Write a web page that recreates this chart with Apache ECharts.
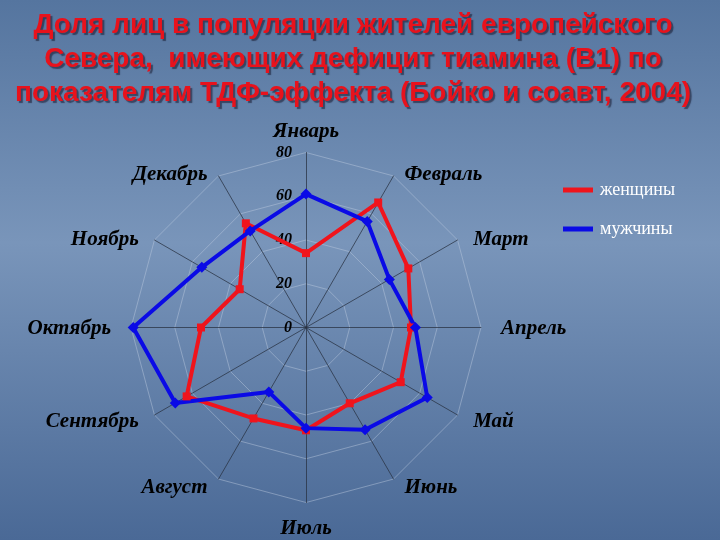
<!DOCTYPE html>
<html>
<head>
<meta charset="utf-8">
<script src="https://cdn.jsdelivr.net/npm/echarts@6/dist/echarts.min.js"></script>
<style>
  html, body { margin: 0; padding: 0; }
  #chart { width: 720px; height: 540px; }
</style>
</head>
<body>
<div id="chart"></div>
<script>
// месяцы (оси радара)
const months = ['Январь', 'Февраль', 'Март', 'Апрель', 'Май', 'Июнь',
  'Июль', 'Август', 'Сентябрь', 'Октябрь', 'Ноябрь', 'Декабрь'];
// доля лиц с дефицитом тиамина, %
const women = [34, 66, 54, 48, 50, 40, 47, 48, 63, 48, 35, 55];
const men = [61, 56, 44, 50, 64, 54, 46, 34, 69, 79, 55, 51];
const seriesNames = ['женщины', 'мужчины'];
const radarMax = 80;

const titleText = 'Доля лиц в популяции жителей европейского\n' +
  'Севера,  имеющих дефицит тиамина (В1) по\n' +
  'показателям ТДФ-эффекта (Бойко и соавт, 2004)';

const serif = 'Liberation Serif, Times New Roman, serif';

// радар в ECharts идёт против часовой стрелки, поэтому
// оставляем январь сверху, а остальные месяцы переворачиваем
function clockwise(arr) {
  return [arr[0]].concat(arr.slice(1).reverse());
}

// стиль подписи месяца по "ряду" (0 - январь ... 6 - июль)
const nameFont = {
  color: '#000',
  fontFamily: serif,
  fontStyle: 'italic',
  fontWeight: 'bold',
  fontSize: 21,
};
const rowPadding = [
  [0, 0, 0, 0],
  [15, 6, 0, 6],
  [10, 7, 0, 7],
  [2, 10, 0, 10],
  [4, 7, 0, 7],
  [0, 6, 0, 6],
  [6, 0, 0, 0],
];
const rich = {};
rowPadding.forEach((p, i) => {
  rich['r' + i] = Object.assign({ padding: p }, nameFont);
});

const chart = echarts.init(document.getElementById('chart'));

const indicator = clockwise(months).map((m, i) => {
  const ind = { name: m, max: radarMax, min: 0 };
  // подписи шкалы только на верхней оси
  if (i === 0) {
    ind.axisLabel = {
      show: true,
      color: '#000',
      fontFamily: serif,
      fontStyle: 'italic',
      fontWeight: 'bold',
      fontSize: 16,
      margin: 14,
    };
  }
  return ind;
});

const option = {
  backgroundColor: {
    type: 'linear', x: 0, y: 0, x2: 0, y2: 1,
    colorStops: [
      { offset: 0, color: '#55759f' },
      { offset: 0.45, color: '#7995ba' },
      { offset: 1, color: '#4a6996' },
    ],
  },
  animation: false,
  title: {
    text: titleText,
    left: 348,
    top: 3,
    textAlign: 'center',
    textStyle: {
      color: '#e8121c',
      fontFamily: 'Liberation Sans, Arial, sans-serif',
      fontWeight: 'bold',
      fontSize: 28,
      lineHeight: 34,
      textShadowColor: 'rgba(20,20,40,0.55)',
      textShadowOffsetX: 2,
      textShadowOffsetY: 2,
      textShadowBlur: 1,
    },
  },
  legend: {
    data: seriesNames,
    orient: 'vertical',
    left: 558,
    top: 176,
    icon: 'rect',
    itemWidth: 30,
    itemHeight: 5,
    itemGap: 21,
    textStyle: {
      color: '#fff',
      fontFamily: serif,
      fontSize: 18,
      padding: [0, 0, 0, 2],
    },
  },
  radar: {
    center: [306, 327.5],
    radius: 175,
    startAngle: 90,
    shape: 'polygon',
    splitNumber: 4,
    indicator,
    nameGap: 10,
    axisName: Object.assign({
      formatter: (name) => {
        const idx = months.indexOf(name);
        const row = idx <= 6 ? idx : 12 - idx;
        return '{r' + row + '|' + name + '}';
      },
      rich,
    }, nameFont),
    axisLine: { lineStyle: { color: 'rgba(40,50,65,0.75)', width: 1 } },
    axisLabel: { show: false },
    splitLine: { lineStyle: { color: 'rgba(190,205,225,0.45)', width: 1 } },
    splitArea: { show: false },
  },
  series: [{
    type: 'radar',
    data: [
      {
        name: seriesNames[0],
        value: clockwise(women),
        symbol: 'rect',
        symbolSize: 8,
        lineStyle: { color: '#f0141c', width: 4 },
        itemStyle: { color: '#f0141c' },
      },
      {
        name: seriesNames[1],
        value: clockwise(men),
        symbol: 'diamond',
        symbolSize: 11,
        lineStyle: { color: '#0a0ae6', width: 4 },
        itemStyle: { color: '#0a0ae6' },
      },
    ],
  }],
};

chart.setOption(option);
</script>
</body>
</html>
